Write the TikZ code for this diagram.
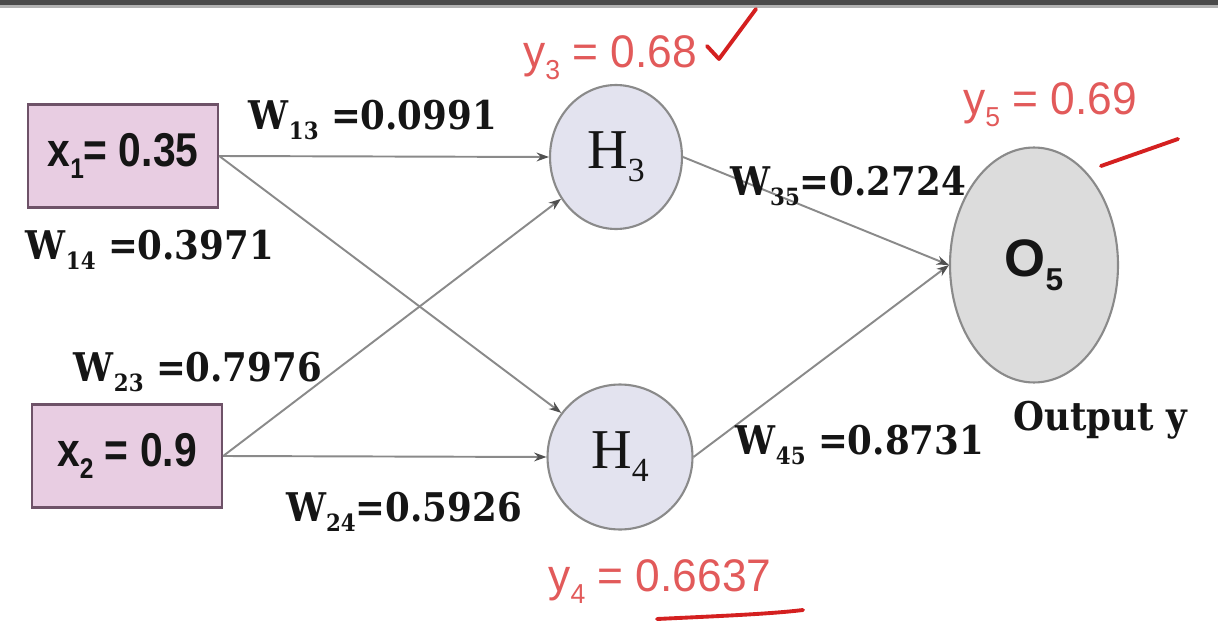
\documentclass[tikz,border=0pt]{standalone}
\usepackage{fontspec}
\usepackage{graphicx}
\setmainfont{Liberation Serif}
\newfontfamily\wfont{DejaVu Serif}
\newfontfamily\sfont{Liberation Sans}
\usetikzlibrary{arrows.meta,shapes.geometric}
\definecolor{boxfill}{HTML}{E8CDE2}
\definecolor{boxdraw}{HTML}{6E5268}
\definecolor{hfill}{HTML}{E3E3EF}
\definecolor{ofill}{HTML}{DCDCDC}
\definecolor{ndraw}{HTML}{8A8A8A}
\definecolor{edgec}{HTML}{8A8A8A}
\definecolor{tipc}{HTML}{505050}
\definecolor{redtxt}{HTML}{E25A5A}
\definecolor{redmark}{HTML}{D42020}
\definecolor{topgray}{HTML}{4A4A4A}
\definecolor{ink}{HTML}{151515}
\newcommand\sbs[1]{\raisebox{-0.5ex}{\scalebox{0.6}{#1}}}
\newcommand\nar[1]{\scalebox{0.86}[1]{#1}}
\newcommand\rnar[1]{\scalebox{0.97}[1]{#1}}
\newcommand\wnar[1]{\scalebox{0.9}[1]{#1}}
\tikzset{
  inbox/.style={draw=boxdraw, fill=boxfill, line width=1.4pt, minimum width=3.8cm, minimum height=2.06cm, inner sep=0pt, font=\sfont\bfseries\fontsize{27}{30}\selectfont, text=ink},
  hnode/.style={ellipse, draw=ndraw, fill=hfill, line width=1.2pt, inner sep=0pt, font=\fontsize{32}{36}\selectfont, text=ink},
  onode/.style={ellipse, draw=ndraw, fill=ofill, line width=1.2pt, inner sep=0pt, font=\sfont\bfseries\fontsize{30}{34}\selectfont, text=ink},
  wlabel/.style={font=\wfont\bfseries\fontsize{22.5}{26}\selectfont, text=ink, inner sep=0pt},
  redlabel/.style={font=\sfont\fontsize{26}{28}\selectfont, text=redtxt, inner sep=0pt},
  conn/.style={draw=edgec, line width=1.1pt, -{Stealth[length=7pt,width=5pt,color=tipc]}},
  redstroke/.style={draw=redmark, line width=2.2pt, line cap=round, line join=round}
}
\begin{document}
\begin{tikzpicture}[x=0.02cm,y=-0.02cm]
\useasboundingbox (0,0) rectangle (1218,622);
\fill[white] (0,0) rectangle (1218,622);
\fill[topgray] (0,0) rectangle (1218,5);
\fill[gray!60] (0,5) rectangle (1218,8);

% nodes
\node[inbox] (x1) at (123,156) {\nar{x\sbs{1}= 0.35}};
\node[inbox] (x2) at (127,456) {\nar{x\sbs{2} = 0.9}};
\node[hnode, minimum width=2.64cm, minimum height=2.88cm] (H3) at (616,157) {H\sbs{3}};
\node[hnode, minimum width=2.9cm, minimum height=2.9cm] (H4) at (620,457) {H\sbs{4}};
\node[onode, minimum width=3.36cm, minimum height=4.7cm] (O5) at (1034,265) {O\sbs{5}};

% connectors
\draw[conn] (x1.east) -- (H3.west);
\draw[conn] (x1.east) -- (H4);
\draw[conn] (x2.east) -- (H3);
\draw[conn] (x2.east) -- (H4.west);
\draw[conn] (H3.east) -- (O5.west);
\draw[conn] (H4.east) -- (O5.west);

% weight labels
\node[wlabel] (w13) at (373,120) {\wnar{W\sbs{13} =0.0991}};
\node[wlabel] (w14) at (150,250) {\wnar{W\sbs{14} =0.3971}};
\node[wlabel] (w23) at (198,372) {\wnar{W\sbs{23} =0.7976}};
\node[wlabel] (w24) at (404,512) {\wnar{W\sbs{24}=0.5926}};
\node[wlabel] (w35) at (848,186) {\wnar{W\sbs{35}=0.2724}};
\node[wlabel] (w45) at (860,445) {\wnar{W\sbs{45} =0.8731}};
\node[wlabel] (out) at (1100,420) {\wnar{Output y}};

% red annotations
\node[redlabel] (y3) at (610,58) {\rnar{y\sbs{3} = 0.68}};
\node[redlabel] (y5) at (1050,105) {\rnar{y\sbs{5} = 0.69}};
\node[redlabel] (y4) at (660,582) {\rnar{y\sbs{4} = 0.6637}};
\draw[redstroke] (707,46) -- (719,59) -- (756,9);
\draw[redstroke] (1101,166) -- (1178,139);
\draw[redstroke] (657,619) .. controls (720,616) and (770,614) .. (803,610);
\end{tikzpicture}
\end{document}
